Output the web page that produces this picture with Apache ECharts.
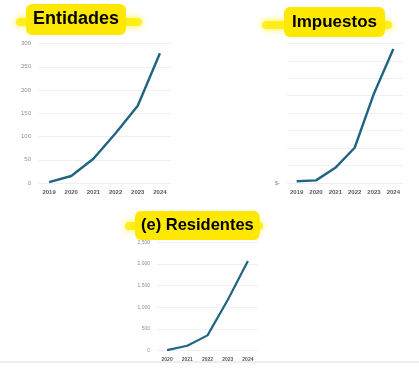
<!DOCTYPE html>
<html>
<head>
<meta charset="utf-8">
<script src="https://cdn.jsdelivr.net/npm/echarts@6/dist/echarts.min.js"></script>
<style>html,body{margin:0;padding:0;background:#fff;}#c{width:419px;height:372px;}</style>
</head>
<body>
<div id="c"></div>
<script>
// Data
var entYears = ['2019','2020','2021','2022','2023','2024'];
var entValues = [2, 15, 52, 107, 166, 279];
var impYears = ['2019','2020','2021','2022','2023','2024'];
var impValues = [0.1, 0.15, 0.87, 2.02, 5.13, 7.67];
var resYears = ['2020','2021','2022','2023','2024'];
var resValues = [15, 115, 353, 1168, 2066];
var titles = ['Entidades', 'Impuestos', '(e) Residentes'];

var FONT = 'Liberation Sans, Arial, sans-serif';
var lineColor = '#1f6482';

function yAxis(gi, max, interval, fmt, fs) {
  return {
    gridIndex: gi, type: 'value', min: 0, max: max, interval: interval,
    axisLine: {show: false}, axisTick: {show: false},
    splitLine: {lineStyle: {color: '#f0f0f0', width: 1}},
    axisLabel: {color: '#8f8f8f', fontSize: fs, fontFamily: FONT, margin: 7, formatter: fmt}
  };
}
function xAxis(gi, data, fs) {
  return {
    gridIndex: gi, type: 'category', data: data, boundaryGap: true,
    axisLine: {show: false}, axisTick: {show: false},
    axisLabel: {color: '#5a5a5a', fontSize: fs, fontFamily: FONT, fontWeight: 'bold', margin: 6}
  };
}
function titleBox(text, left, top, fs, lh, pad) {
  return {
    text: text, left: left, top: top, padding: pad,
    backgroundColor: '#ffe800', borderRadius: 6,
    textStyle: {color: '#000', fontWeight: 'bold', fontSize: fs, lineHeight: lh, fontFamily: FONT}
  };
}
function glow(x, y, w, h) {
  return {
    type: 'rect', z: 1, shape: {x: x, y: y, width: w, height: h, r: h / 2},
    style: {fill: 'rgba(255,236,0,0.8)', shadowBlur: 7, shadowColor: 'rgba(255,236,0,1)'}
  };
}

var chart = echarts.init(document.getElementById('c'), null, {renderer: 'canvas'});
chart.setOption({
  animation: false,
  backgroundColor: '#fff',
  title: [
    titleBox(titles[0], 26, 4, 18, 21, [5, 7]),
    titleBox(titles[1], 284, 7, 17, 20, [5, 8]),
    titleBox(titles[2], 135, 211, 16.5, 19, [5, 6])
  ],
  graphic: [
    glow(16, 18, 126, 8),
    glow(262, 21, 130, 8),
    glow(125, 222, 138, 8),
    {type: 'rect', z: 0, shape: {x: 0, y: 361, width: 419, height: 2}, style: {fill: '#eeeeee'}}
  ],
  grid: [
    {left: 38, right: 248, top: 43.5, bottom: 189},
    {left: 287, right: 16, top: 43.3, bottom: 189},
    {left: 157, right: 161, top: 242.3, bottom: 21.3}
  ],
  xAxis: [xAxis(0, entYears, 6), xAxis(1, impYears, 6), xAxis(2, resYears, 5)],
  yAxis: [
    yAxis(0, 300, 50, null, 6),
    yAxis(1, 8, 1, function (v) { return v === 0 ? '$-' : ''; }, 6),
    yAxis(2, 2500, 500, function (v) { return v.toLocaleString('en-US'); }, 5)
  ],
  series: [
    {type: 'line', xAxisIndex: 0, yAxisIndex: 0, data: entValues, symbol: 'none', lineStyle: {color: lineColor, width: 2.4}},
    {type: 'line', xAxisIndex: 1, yAxisIndex: 1, data: impValues, symbol: 'none', lineStyle: {color: lineColor, width: 2.4}},
    {type: 'line', xAxisIndex: 2, yAxisIndex: 2, data: resValues, symbol: 'none', lineStyle: {color: lineColor, width: 2.2}}
  ]
});
</script>
</body>
</html>
